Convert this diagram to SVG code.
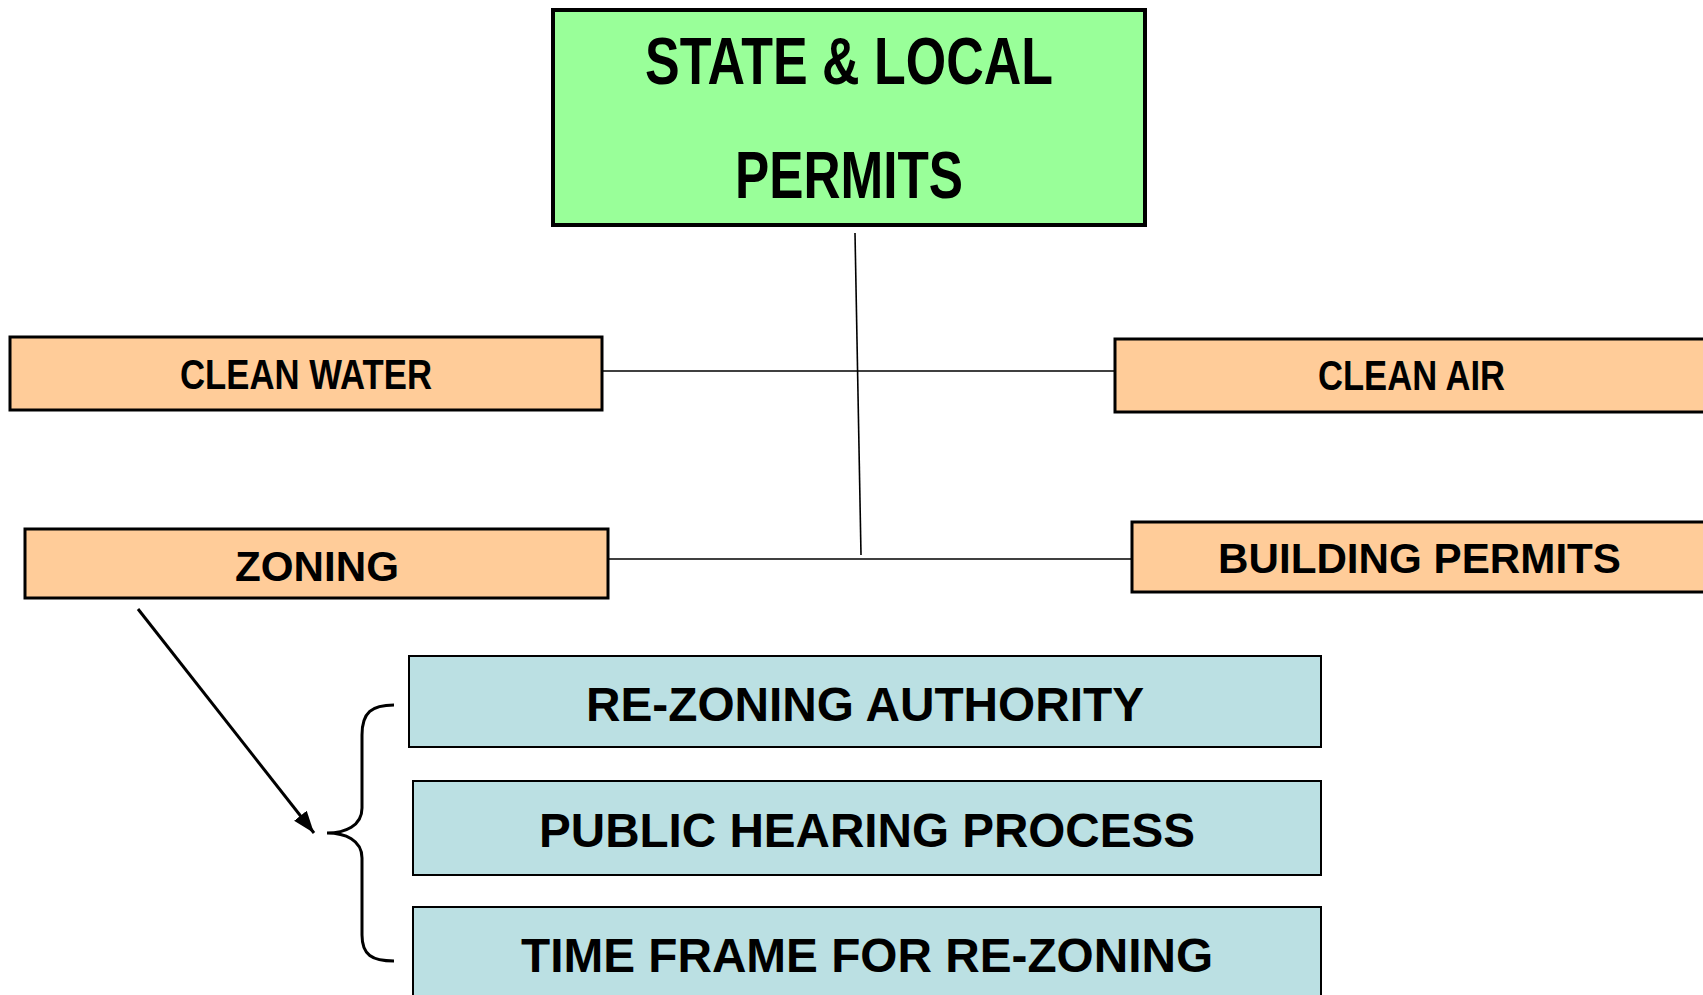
<svg xmlns="http://www.w3.org/2000/svg" width="1703" height="995" viewBox="0 0 1703 995">
<style>
  .t { font-family: "Liberation Sans", Arial, sans-serif; font-weight: bold; fill: #000; }
  .green { fill: #99FF99; stroke: #000; stroke-width: 4; }
  .orange { fill: #FFCC99; stroke: #000; stroke-width: 3; }
  .blue { fill: #BBE0E3; stroke: #000; stroke-width: 2; }
  .conn { stroke: #000; stroke-width: 1.6; fill: none; }
</style>
<defs>
  <marker id="ah" markerUnits="userSpaceOnUse" markerWidth="24" markerHeight="20" refX="22" refY="10" orient="auto">
    <path d="M0,2 L22,10 L0,18 Z" fill="#000"/>
  </marker>
</defs>
<rect width="1703" height="995" fill="#fff"/>

<g id="connectors">
  <line class="conn" x1="855" y1="233" x2="861" y2="555"/>
  <line class="conn" x1="600" y1="371" x2="1114" y2="371"/>
  <line class="conn" x1="607" y1="559" x2="1137" y2="559"/>
  <line x1="138" y1="609" x2="314" y2="833" stroke="#000" stroke-width="3" marker-end="url(#ah)"/>
  <path d="M394,705 C372,705 362,712 362,735 L362,808 C362,826 345,833 327,833 C345,833 362,840 362,858 L362,935 C362,955 372,961 394,961" stroke="#000" stroke-width="3" fill="none"/>
</g>

<g id="state-local">
  <rect class="green" x="553" y="10" width="592" height="215"/>
  <text class="t" x="645" y="84" font-size="67" textLength="408" lengthAdjust="spacingAndGlyphs">STATE &amp; LOCAL</text>
  <text class="t" x="735" y="198" font-size="67" textLength="228" lengthAdjust="spacingAndGlyphs">PERMITS</text>
</g>

<g id="clean-water">
  <rect class="orange" x="10" y="337" width="592" height="73"/>
  <text class="t" x="180" y="389" font-size="42" textLength="252" lengthAdjust="spacingAndGlyphs">CLEAN WATER</text>
</g>

<g id="clean-air">
  <rect class="orange" x="1115" y="339" width="600" height="73"/>
  <text class="t" x="1318" y="390" font-size="42" textLength="187" lengthAdjust="spacingAndGlyphs">CLEAN AIR</text>
</g>

<g id="zoning">
  <rect class="orange" x="25" y="529" width="583" height="69"/>
  <text class="t" x="235" y="581" font-size="42" textLength="164" lengthAdjust="spacingAndGlyphs">ZONING</text>
</g>

<g id="building-permits">
  <rect class="orange" x="1132" y="522" width="590" height="70"/>
  <text class="t" x="1218" y="573" font-size="42" textLength="403" lengthAdjust="spacingAndGlyphs">BUILDING PERMITS</text>
</g>

<g id="rezoning-authority">
  <rect class="blue" x="409" y="656" width="912" height="91"/>
  <text class="t" x="586" y="721" font-size="48" textLength="558" lengthAdjust="spacingAndGlyphs">RE-ZONING AUTHORITY</text>
</g>

<g id="public-hearing">
  <rect class="blue" x="413" y="781" width="908" height="94"/>
  <text class="t" x="539" y="847" font-size="48" textLength="656" lengthAdjust="spacingAndGlyphs">PUBLIC HEARING PROCESS</text>
</g>

<g id="time-frame">
  <rect class="blue" x="413" y="907" width="908" height="100"/>
  <text class="t" x="521" y="972" font-size="48" textLength="692" lengthAdjust="spacingAndGlyphs">TIME FRAME FOR RE-ZONING</text>
</g>
</svg>
